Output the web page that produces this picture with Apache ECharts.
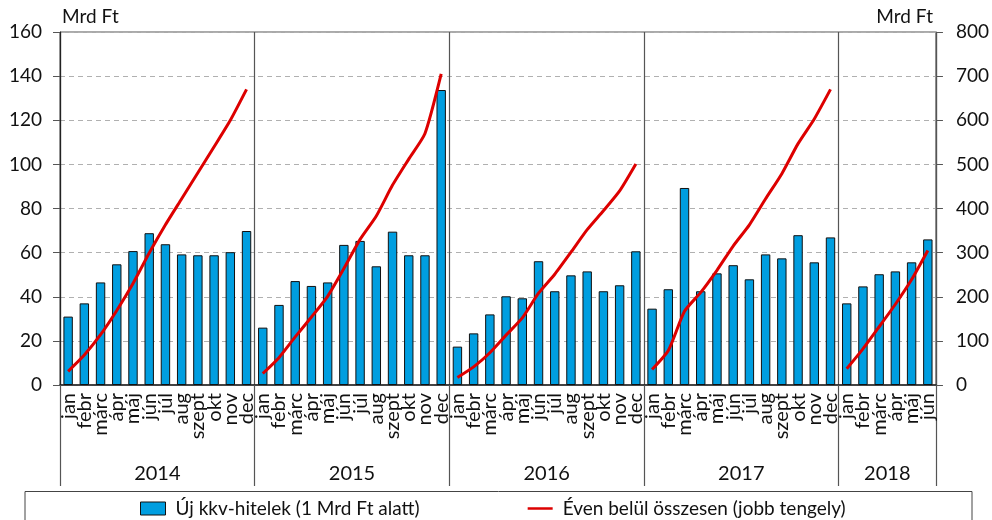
<!DOCTYPE html>
<html>
<head>
<meta charset="utf-8">
<script src="https://cdn.jsdelivr.net/npm/echarts@6/dist/echarts.min.js"></script>
<style>
html,body{margin:0;padding:0;background:#fff;}
#chart{width:992px;height:520px;}
</style>
</head>
<body>
<div id="chart"></div>
<script>
// ---- data ----
const monthNames = ['jan','febr','márc','ápr','máj','jún','júl','aug','szept','okt','nov','dec'];
const years = ['2014','2015','2016','2017','2018'];
const monthsPerYear = [12, 12, 12, 12, 6];

const bars2014 = [31.0, 37.0, 46.5, 54.7, 60.7, 68.8, 63.8, 59.2, 58.8, 58.8, 60.2, 69.8];
const bars2015 = [26.0, 36.3, 47.1, 44.9, 46.5, 63.5, 65.3, 53.8, 69.5, 58.8, 58.8, 133.7];
const bars2016 = [17.4, 23.4, 32.0, 40.2, 39.3, 56.1, 42.5, 49.7, 51.5, 42.5, 45.2, 60.6];
const bars2017 = [34.6, 43.4, 89.3, 42.5, 50.6, 54.3, 47.9, 59.2, 57.4, 67.9, 55.6, 66.9];
const bars2018 = [37.0, 44.7, 50.2, 51.5, 55.6, 66.0];

const cum2014 = [31, 68, 114, 169, 230, 299, 363, 422, 481, 540, 600, 670];
const cum2015 = [26, 62, 109, 154, 201, 264, 330, 383, 453, 512, 570, 705];
const cum2016 = [17, 41, 73, 113, 152, 208, 251, 301, 352, 395, 440, 501];
const cum2017 = [35, 78, 167, 210, 260, 315, 363, 422, 479, 547, 603, 670];
const cum2018 = [37, 82, 132, 183, 239, 305];

const leftTicks = [0, 20, 40, 60, 80, 100, 120, 140, 160];
const rightTicks = [0, 100, 200, 300, 400, 500, 600, 700, 800];

const barName = 'Új kkv-hitelek (1 Mrd Ft alatt)';
const lineName = 'Éven belül összesen (jobb tengely)';
const unitName = 'Mrd Ft';

// ---- build ----
const categories = [];
monthsPerYear.forEach(n => { for (let i = 0; i < n; i++) categories.push(monthNames[i]); });
const barData = [].concat(bars2014, bars2015, bars2016, bars2017, bars2018);
const cumYears = [cum2014, cum2015, cum2016, cum2017, cum2018];

const yearStarts = [];
const yearMids = [];
let acc = 0;
monthsPerYear.forEach(n => { yearStarts.push(acc); yearMids.push(acc + n / 2); acc += n; });
const yearBounds = yearStarts.concat([acc]);

const FONT = 'Lato';
const lineSeries = cumYears.map((arr, yi) => {
  const d = new Array(categories.length).fill('-');
  arr.forEach((v, i) => { d[yearStarts[yi] + i] = v; });
  return {
    name: lineName, type: 'line', xAxisIndex: 0, yAxisIndex: 1, data: d,
    symbol: 'none', smooth: 0.2, z: 5,
    lineStyle: { color: '#dd0000', width: 3 }, itemStyle: { color: '#dd0000' }
  };
});

const chart = echarts.init(document.getElementById('chart'), null, { renderer: 'canvas' });
chart.setOption({
  animation: false,
  textStyle: { fontFamily: FONT },
  grid: { left: 60, right: 54, top: 32, bottom: 135, show: true, borderColor: '#555', borderWidth: 1, backgroundColor: 'transparent' },
  legend: {
    left: 135, top: 494, itemGap: 108, itemWidth: 25, itemHeight: 13,
    textStyle: { fontFamily: FONT, fontSize: 19, color: '#111', padding: [0, 0, 0, 5] },
    data: [
      { name: barName, icon: 'rect', itemStyle: { color: '#009ee0', borderColor: '#111', borderWidth: 1 } },
      { name: lineName, icon: 'path://M0,0 h30 v3 h-30 z', itemStyle: { color: '#dd0000', borderWidth: 0 } }
    ]
  },
  graphic: [{ type: 'rect', shape: { x: 25, y: 491.5, width: 947, height: 40 }, style: { fill: 'none', stroke: '#444', lineWidth: 1 }, z: -1 }],
  xAxis: [{
    type: 'category', data: categories, position: 'bottom', boundaryGap: true,
    axisLine: { show: true, lineStyle: { color: '#222', width: 1.5 } },
    axisTick: { show: false },
    axisLabel: { interval: 0, rotate: 90, fontSize: 20, color: '#111', margin: 8, fontFamily: FONT },
    splitLine: { show: false }
  }, {
    type: 'value', min: 0, max: categories.length, interval: 12, position: 'bottom',
    axisLine: { show: false },
    axisTick: { show: true, customValues: yearBounds, length: 101, lineStyle: { color: '#555', width: 1.2 } },
    axisLabel: { show: true, customValues: yearMids, margin: 79, fontSize: 20, color: '#111', fontFamily: FONT,
      formatter: v => { const i = yearMids.indexOf(v); return i >= 0 ? years[i] : ''; } },
    splitLine: { show: true, lineStyle: { color: '#555', width: 1.2, type: 'solid' } }
  }],
  yAxis: [{
    type: 'value', min: leftTicks[0], max: leftTicks[leftTicks.length - 1], interval: 20, position: 'left',
    name: unitName, nameLocation: 'end', nameGap: 6,
    nameTextStyle: { fontFamily: FONT, fontSize: 19, color: '#111', align: 'left', verticalAlign: 'bottom', padding: [0, 0, 0, 2] },
    axisLine: { show: true, lineStyle: { color: '#222', width: 1.2 } },
    axisTick: { show: true, inside: false, length: 7, lineStyle: { color: '#555' } },
    axisLabel: { fontSize: 19, color: '#111', margin: 18, fontFamily: FONT },
    splitLine: { show: true, lineStyle: { color: '#b0b0b0', type: [5, 4], width: 1 } }
  }, {
    type: 'value', min: rightTicks[0], max: rightTicks[rightTicks.length - 1], interval: 100, position: 'right',
    name: unitName, nameLocation: 'end', nameGap: 6,
    nameTextStyle: { fontFamily: FONT, fontSize: 19, color: '#111', align: 'right', verticalAlign: 'bottom', padding: [0, 3, 0, 0] },
    axisLine: { show: true, lineStyle: { color: '#555', width: 1.2 } },
    axisTick: { show: true, inside: false, length: 7, lineStyle: { color: '#555' } },
    axisLabel: { fontSize: 19, color: '#111', margin: 20, fontFamily: FONT },
    splitLine: { show: false }
  }],
  series: [{
    name: barName, type: 'bar', xAxisIndex: 0, yAxisIndex: 0, data: barData, barWidth: '58%', z: 2,
    itemStyle: { color: '#009ee0', borderColor: '#111', borderWidth: 1 }
  }].concat(lineSeries)
});
</script>
</body>
</html>
